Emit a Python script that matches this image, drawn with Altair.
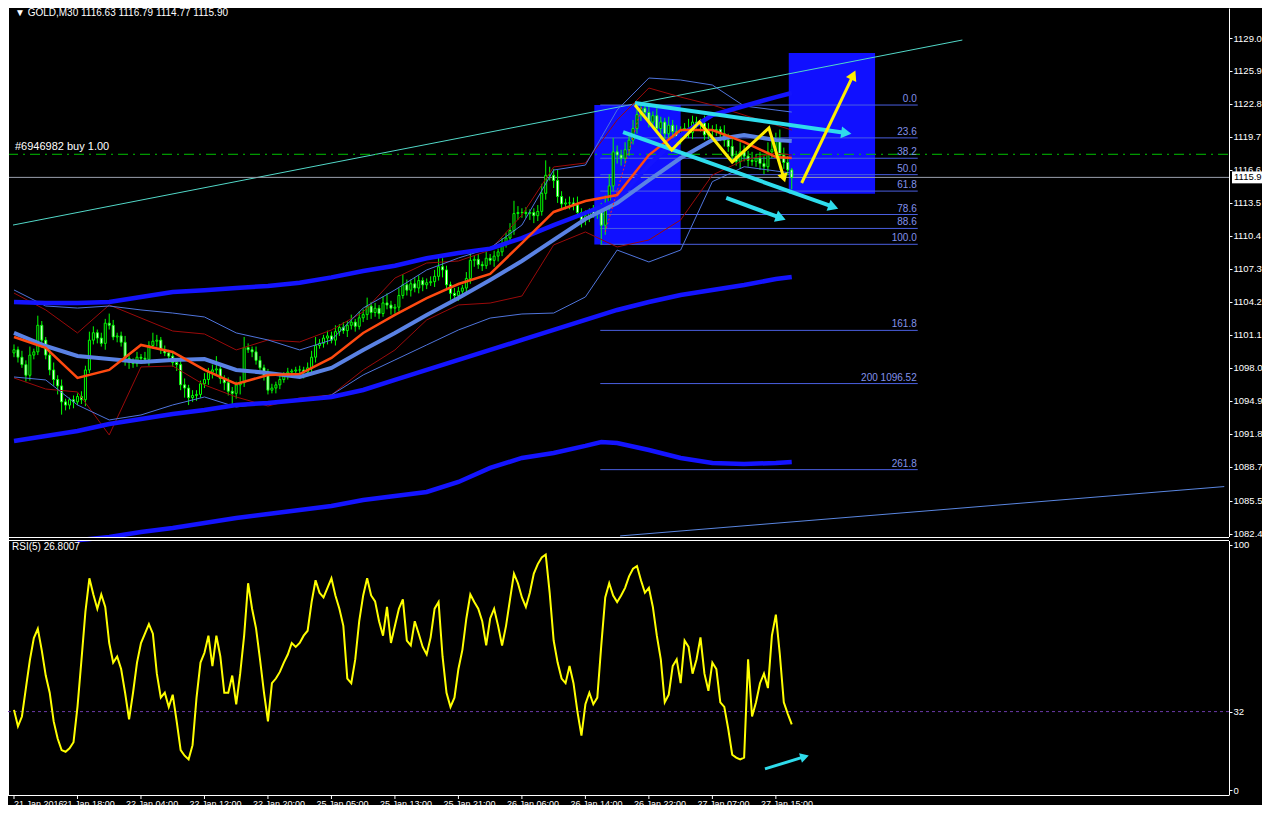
import math
import altair as alt
import pandas as pd

# ---------------- data ----------------
title_text = "\u25bc GOLD,M30  1116.63 1116.79 1114.77 1115.90"
order_text = "#6946982 buy 1.00"
rsi_text = "RSI(5) 26.8007"

first_open = 1099.4
closes = [
    1099.7, 1099.0, 1098.3, 1097.3, 1099.2, 1099.5, 1102.0, 1100.6, 1099.2, 1097.8,
    1096.9, 1096.3, 1094.8, 1094.5, 1095.0, 1094.8, 1095.3, 1095.0, 1097.8, 1100.6,
    1101.3, 1100.8, 1100.3, 1102.2, 1102.0, 1100.9, 1101.0, 1100.4, 1098.9, 1098.5,
    1098.4, 1099.0, 1098.9, 1098.8, 1100.1, 1100.5, 1100.6, 1099.7, 1099.4, 1099.1,
    1098.5, 1098.3, 1096.4, 1096.1, 1095.2, 1095.4, 1095.5, 1096.5, 1096.9, 1097.6,
    1097.8, 1097.9, 1097.0, 1096.6, 1095.8, 1095.6, 1096.4, 1096.6, 1099.9, 1099.7,
    1099.5, 1098.7, 1098.0, 1097.3, 1095.9, 1096.1, 1096.4, 1096.9, 1097.3, 1097.6,
    1097.7, 1097.8, 1097.8, 1097.6, 1098.0, 1099.0, 1100.1, 1100.3, 1100.8, 1101.0,
    1100.6, 1101.4, 1101.8, 1101.5, 1102.0, 1102.3, 1101.9, 1102.7, 1103.0, 1103.8,
    1103.2, 1103.6, 1103.1, 1104.1, 1103.9, 1103.6, 1103.7, 1104.8, 1105.8, 1105.3,
    1105.9, 1105.5, 1106.2, 1105.8, 1106.0, 1106.1, 1106.6, 1107.5, 1107.2, 1105.8,
    1105.0, 1104.8, 1105.2, 1105.5, 1106.4, 1108.1, 1108.2, 1107.7, 1107.6, 1108.3,
    1108.1, 1108.5, 1108.9, 1109.6, 1110.2, 1110.9, 1112.5, 1112.6, 1112.6, 1112.5,
    1112.6, 1112.3, 1112.7, 1114.4, 1116.1, 1116.1, 1115.6, 1114.1, 1113.4, 1113.5,
    1113.5, 1113.3, 1112.6, 1111.9, 1112.3, 1112.7, 1112.5, 1112.6, 1111.4, 1113.4,
    1115.1, 1118.3, 1118.0, 1117.7, 1118.5, 1119.4, 1120.5, 1121.8, 1122.4, 1122.0,
    1121.1, 1121.7, 1120.5, 1121.1, 1120.0, 1120.8, 1120.2, 1119.7, 1120.3, 1120.5,
    1120.1, 1121.1, 1120.9, 1121.0, 1119.9, 1120.4, 1120.3, 1120.4, 1120.0, 1119.4,
    1118.8, 1117.9, 1117.4, 1118.3, 1117.9, 1117.5, 1117.4, 1117.7, 1117.2, 1116.9,
    1118.3, 1118.5, 1119.3, 1118.0, 1117.3, 1116.6, 1115.9,
]
up_wick = [
    .5, .3, .6, .4, .8, .3, .9, .4, .3, .5, .7, .4, .6, .3, .2, .4, .3, .5, .4, .8,
    .6, .3, .5, .4, .9, .5, .3, .4, .6, .3, .4, .5, .3, .6, .4, .8, .5, .3, .4, .3,
    .5, .4, .9, .6, .3, .5, .4, .3, .6, .4, .5, 1.2, .4, .3, .5, .4, .3, .6, 1.0, .4,
    .3, .5, .4, .3, .6, .4, .3, .5, .3, .4, .2, .3, .4, .3, .5, .6, .8, .4, .3, .5,
    .4, .6, .3, .5, .4, .7, .3, .6, .5, .8, .4, .5, .3, .6, .9, .4, .3, .7, 1.0, .5,
    .4, .6, .5, .3, .4, .5, .6, 1.1, .8, .4, .3, .5, .4, .3, .6, .9, .4, .5, .3, .6,
    .4, .5, .3, .6, .5, .7, 1.2, .6, .4, .5, .3, .4, .6, .9, 1.4, .8, .6, 1.0, .5, .4,
    .6, .5, .8, .4, .5, .3, .6, .4, .9, .8, 1.1, 1.3, .6, .5, .7, .6, .8, .9, .3, .5,
    .6, .4, .7, .5, .4, .8, .5, .6, .4, .5, .9, .6, .5, .4, .7, .6, .4, .5, .3, .8,
    .6, .7, .5, .9, .6, .5, .8, .4, .6, .7, .9, 1.0, .8, 1.1, .7, .6, .19,
]
dn_wick = [
    .4, .5, .3, .6, .5, .4, .3, .7, .4, .5, .6, .8, 1.2, .5, .4, .6, .3, .4, .6, .3,
    .4, .5, .3, .6, .4, .3, .5, .4, .7, .6, .4, .3, .5, .4, .6, .3, .5, .4, .3, .5,
    .4, .6, .5, .9, .7, .4, .5, .3, .4, .5, .6, .4, .5, .7, .4, 1.0, .5, .9, .4, .3,
    .5, .4, .6, .5, .4, .3, .5, .4, .3, .4, .3, .5, .4, .6, .3, .4, .5, .3, .4, .6,
    .3, .5, .4, .3, .6, .4, .5, .3, .4, .5, .6, .4, .5, .3, .4, .6, .5, .4, .3, .5,
    .6, .4, .5, .6, .4, .3, .5, .4, .7, .5, .6, .4, .5, .6, .4, .5, .6, .4, .5, .3,
    .4, .6, .5, .4, .3, .5, .4, .6, .5, .4, .6, .7, .5, .4, .6, .5, .7, .6, .4, .5,
    .6, .5, .4, .7, .5, .6, .4, .5, 1.8, .9, .6, .5, .8, .7, .5, .6, .4, .5, .6, .4,
    .5, .6, .4, .5, .7, .4, .6, .5, .7, .4, .5, .6, .4, .7, .5, .4, .6, .5, .7, .6,
    .5, .6, .4, .7, .5, .6, .4, .5, .6, .7, .5, .6, .5, .7, .6, .5, 1.13,
]
rsi_vals = [
    32.7, 26, 30, 41.6, 53, 62, 65.8, 57, 46.7, 39.7, 28, 21, 16.3, 15.6, 17, 19.5, 33.9, 53, 72.8, 86.4,
    79.8, 74, 79.8, 74.7, 60, 52, 54.5, 49.4, 39.7, 28.8, 39.7, 52, 60, 63.8, 67.7, 63.8, 47.5, 37.7, 39.7, 33.9,
    38.9, 28, 16.3, 14, 12.5, 18.3, 37.7, 52, 56, 63, 50.6, 63, 54.5, 39.7, 39.7, 46.7, 35, 47.5, 63, 84.4,
    74, 66, 53.3, 39.7, 28, 43.6, 45.5, 48.2, 52, 55.3, 60, 58.4, 60, 63, 65, 76.7, 85.6, 80.5, 78.6, 82.5,
    86.4, 79.4, 74, 67, 45.5, 43.6, 53.3, 68.9, 79.4, 86.4, 79.4, 77, 68.9, 63, 74.7, 60, 67, 74, 77.8, 61,
    59, 68.9, 63.8, 58.4, 55.3, 62.3, 74, 76.7, 54.5, 39.7, 33.9, 37.7, 49.4, 57.2, 70, 79.8, 76.7, 74, 68.9, 59,
    70, 74, 67, 59, 67, 77.8, 88.3, 84.4, 78.6, 74.7, 80.5, 88.3, 92.2, 94.9, 96.1, 80.5, 61, 52, 45.5, 43.6,
    50.6, 43.6, 31.9, 22.2, 35, 39.7, 35, 37.7, 59, 78.6, 84.4, 79.4, 76.7, 79.4, 82.5, 87.2, 90.3, 91.4, 85.6, 80.5,
    82.5, 74.7, 63, 53.3, 35.8, 38.9, 50.6, 53.3, 43.6, 61, 58.4, 47.5, 53.3, 62.3, 47.5, 40.5, 52, 49.4, 35.8, 33.9,
    24.9, 14.4, 13.2, 12.5, 13.2, 53.3, 30, 35.8, 43.6, 47.5, 41.6, 63, 71.6, 55.3, 35.8, 31.1, 26.8,
]

# indicator lines, sampled every 8 bars
ma_bars = [0, 8, 16, 24, 32, 40, 48, 56, 64, 72, 80, 88, 96, 104, 112, 120,
           128, 136, 144, 152, 160, 168, 176, 184, 192, 196]
ma_fast = [1100.9, 1099.87, 1097.05, 1097.8, 1100.15, 1099.49, 1097.8, 1096.48, 1097.33, 1097.42,
           1098.93, 1101.28, 1102.97, 1104.56, 1105.88, 1106.82, 1109.73, 1112.65, 1113.68, 1114.24,
           1118.0, 1120.35, 1120.35, 1119.22, 1117.82, 1117.72]
ma_slow = [1101.28, 1100.05, 1099.11, 1098.83, 1098.55, 1098.74, 1098.83, 1097.8, 1097.52, 1097.14,
           1097.99, 1099.68, 1101.28, 1102.97, 1104.56, 1106.26, 1108.04, 1110.02, 1111.99, 1113.49,
           1115.65, 1117.72, 1119.41, 1119.88, 1119.41, 1119.32]
env_up = [1104.19, 1104.09, 1104.09, 1104.19, 1104.66, 1105.13, 1105.3, 1105.5, 1105.7, 1106.0,
          1106.5, 1107.1, 1107.6, 1108.3, 1108.8, 1109.2, 1110.2, 1111.42, 1112.55, 1113.77,
          1117.06, 1119.88, 1121.76, 1122.61, 1123.45, 1123.83]
env_dn = [1091.12, 1091.59, 1092.06, 1092.72, 1093.19, 1093.66, 1094.04, 1094.51, 1094.7, 1094.98,
          1095.26, 1095.92, 1096.86, 1097.8, 1098.74, 1099.68, 1100.62, 1101.56, 1102.5, 1103.44,
          1104.19, 1104.85, 1105.31, 1105.79, 1106.35, 1106.54]
bb_blue_up = [1105.32, 1103.81, 1103.62, 1103.81, 1103.44, 1103.15, 1102.78, 1101.28, 1100.62, 1099.68,
              1100.62, 1103.62, 1105.32, 1107.2, 1108.32, 1109.26, 1111.42, 1116.59, 1117.06, 1122.23,
              1125.24, 1125.05, 1124.58, 1122.61, 1122.23, 1122.04]
bb_blue_dn = [1097.14, 1096.86, 1094.51, 1093.1, 1093.57, 1094.51, 1095.26, 1094.32, 1094.7, 1094.98,
              1095.45, 1097.33, 1098.74, 1100.15, 1101.56, 1102.68, 1103.06, 1103.15, 1104.66, 1109.07,
              1107.95, 1109.07, 1115.5, 1116.9, 1116.5, 1116.3]
bb_red_up = [1105.03, 1103.44, 1101.28, 1103.91, 1102.68, 1101.46, 1101.18, 1099.68, 1100.62, 1100.43,
             1101.56, 1103.25, 1106.44, 1107.85, 1108.04, 1109.07, 1112.36, 1116.88, 1117.25, 1121.29,
             1124.3, 1123.45, 1122.7, 1121.76, 1120.82, 1120.35]
bb_red_dn = [1097.05, 1096.01, 1095.73, 1091.69, 1098.08, 1098.17, 1096.39, 1095.26, 1094.41, 1095.17,
             1095.45, 1097.8, 1099.68, 1102.5, 1103.91, 1104.09, 1104.75, 1109.55, 1110.77, 1109.36,
             1110.02, 1111.9, 1116.12, 1117.53, 1118.19, 1118.0]
low_bars = [16, 24, 32, 40, 48, 56, 64, 72, 80, 88, 96, 104, 112, 120, 128, 136, 144, 148,
            152, 160, 168, 176, 184, 192, 196]
low_line = [1081.8, 1082.1, 1082.57, 1082.95, 1083.42, 1083.89, 1084.26, 1084.64, 1085.02, 1085.58,
            1085.96, 1086.33, 1087.27, 1088.59, 1089.53, 1090.0, 1090.66, 1091.03, 1090.94, 1090.28,
            1089.53, 1089.06, 1088.96, 1089.06, 1089.15]

# axes
price_ticks = [1129.0, 1125.9, 1122.8, 1119.7, 1116.6, 1113.5, 1110.4, 1107.3, 1104.2,
               1101.1, 1098.0, 1094.9, 1091.8, 1088.7, 1085.5, 1082.4]
rsi_ticks = [0, 32, 100]
time_tick_bars = [0, 16, 32, 48, 64, 80, 96, 112, 128, 144, 160, 176, 192]
time_labels = ["21 Jan 2016", "21 Jan 18:00", "22 Jan 04:00", "22 Jan 12:00", "22 Jan 20:00",
               "25 Jan 05:00", "25 Jan 13:00", "25 Jan 21:00", "26 Jan 06:00", "26 Jan 14:00",
               "26 Jan 22:00", "27 Jan 07:00", "27 Jan 15:00"]

# fibonacci
fib_levels = [0.0, 23.6, 38.2, 50.0, 61.8, 78.6, 88.6, 100.0, 161.8, 200.0, 261.8]
fib_labels = ["0.0", "23.6", "38.2", "50.0", "61.8", "78.6", "88.6", "100.0", "161.8",
              "200 1096.52", "261.8"]
fib_top, fib_bottom = 1122.70, 1109.61
fib_start_bar, fib_end_bar = 147.75, 227.75

# rectangles
box_b1 = [146.25, 195.25]
box_b2 = [168.0, 217.0]
box_top = [1122.7, 1127.6]
box_bot = [1109.6, 1114.35]

order_price = 1118.07
bid_price = 1115.9

trend_up_bars, trend_up_prices = [-0.25, 239.0], [1111.42, 1128.81]
trend_lo_bars, trend_lo_prices = [152.75, 305.0], [1082.2, 1086.84]

cyan_arrows = [(156.5, 1122.89, 209.75, 1120.07),
               (153.5, 1120.16, 206.5, 1113.12),
               (179.5, 1113.97, 193.25, 1112.09)]
zig_bars = [156.5, 165.75, 172.75, 181.0, 190.25, 194.0]
zig_prices = [1122.7, 1118.47, 1121.1, 1117.35, 1120.54, 1115.84]
yellow_arrow = (198.5, 1115.37, 211.5, 1125.52)
red_dash = (149.0, 1110.77, 158.5, 1122.89)
rsi_arrow = (189.25, 8.6, 199.25, 13.6)

# ---------------- layout (one layered chart, two stacked y ranges) ----------------
CW, CH = 1254, 797          # whole drawing, kept inside the window with its margins
PLOT_R = 1221               # right edge of plotting area
MAIN_BOT = 529              # bottom of price panel
RSI_TOP, RSI_BOT = 532, 787
X_DOM = [-0.25, -0.25 + CW / 4.0]
P_DOM = [1082.1, 1131.82]
R_DOM = [-2.04, 102.04]
XPX = CW / (X_DOM[1] - X_DOM[0])
PPX = MAIN_BOT / (P_DOM[1] - P_DOM[0])
RPX = (RSI_BOT - RSI_TOP) / (R_DOM[1] - R_DOM[0])

FONT = "Liberation Sans"
LIME = "#00ff00"
CYAN = "#2fdcec"
YEL = "#ffee00"

xs = alt.Scale(domain=X_DOM, nice=False, zero=False)
ps = alt.Scale(domain=P_DOM, range=[MAIN_BOT, 0], nice=False, zero=False)
rs = alt.Scale(domain=R_DOM, range=[RSI_BOT, RSI_TOP], nice=False, zero=False)

axis_style = dict(title=None, grid=False, labelColor="white", tickColor="white",
                  domainColor="white", tickSize=3, labelFont=FONT, labelFontSize=9.5,
                  labelPadding=1, offset=PLOT_R - CW, orient="right")
YAX = alt.Axis(values=price_ticks, format=".1f", **axis_style)
RAX = alt.Axis(values=rsi_ticks, format="d", **axis_style)


def X(field="i"):
    return alt.X(field, type="quantitative", scale=xs, axis=None)


def Y(field="p"):
    return alt.Y(field, type="quantitative", scale=ps, axis=YAX)


def R(field="r"):
    return alt.Y(field, type="quantitative", scale=rs, axis=RAX)


def line_layer(bars, vals, color, width, dash=None):
    df = pd.DataFrame({"i": bars, "p": vals})
    kw = dict(color=color, strokeWidth=width, clip=True)
    if dash:
        kw["strokeDash"] = dash
    return alt.Chart(df).mark_line(**kw).encode(x=X(), y=Y())


def head_layer(b1, p1, b2, p2, color, size):
    ang = math.degrees(math.atan2((b2 - b1) * XPX, (p2 - p1) * PPX)) % 360
    df = pd.DataFrame({"i": [b2], "p": [p2]})
    return alt.Chart(df).mark_point(shape="triangle-up", filled=True, color=color, opacity=1,
                                    size=size, angle=ang, strokeWidth=0).encode(x=X(), y=Y())


# ---------------- price panel ----------------
n = len(closes)
opens = [first_open] + closes[:-1]
candles = pd.DataFrame({
    "i": list(range(n)),
    "o": opens,
    "c": closes,
    "h": [max(o, c) + u for o, c, u in zip(opens, closes, up_wick)],
    "l": [min(o, c) - d for o, c, d in zip(opens, closes, dn_wick)],
})

boxes = pd.DataFrame({"b1": box_b1, "b2": box_b2, "p": box_top, "p2": box_bot})
rects = alt.Chart(boxes).mark_rect(color="#1010ff").encode(
    x=X("b1"), x2="b2", y=Y("p"), y2="p2")

fib = pd.DataFrame({
    "x1": [fib_start_bar] * len(fib_levels),
    "i": [fib_end_bar] * len(fib_levels),
    "p": [fib_top - lv / 100.0 * (fib_top - fib_bottom) for lv in fib_levels],
    "t": fib_labels,
})
fib_lines = alt.Chart(fib).mark_rule(color="#4a5fe0", strokeWidth=1).encode(
    x=X("x1"), x2="i", y=Y())
fib_text = alt.Chart(fib).mark_text(align="right", baseline="bottom", dx=-1, dy=-1,
                                    color="#8292ea", font=FONT, fontSize=10).encode(
    x=X(), y=Y(), text="t:N")

order_line = alt.Chart(pd.DataFrame({"p": [order_price]})).mark_rule(
    color="#00c000", strokeWidth=1, strokeDash=[10, 5, 2, 5]).encode(
    x=alt.value(0), x2=alt.value(PLOT_R), y=Y())
bid_line = alt.Chart(pd.DataFrame({"p": [bid_price]})).mark_rule(
    color="#9aa0ae", strokeWidth=1).encode(x=alt.value(0), x2=alt.value(PLOT_R), y=Y())

wicks = alt.Chart(candles).mark_rule(color=LIME, strokeWidth=1).encode(
    x=X(), y=Y("l"), y2="h")
bodies = alt.Chart(candles).mark_bar(size=2, stroke=LIME, strokeWidth=1).encode(
    x=X(), y=Y("o"), y2="c",
    fill=alt.condition("datum.c >= datum.o", alt.value("black"), alt.value("white")))

layers = [
    rects,
    line_layer(trend_up_bars, trend_up_prices, "#52d8c8", 1),
    line_layer(trend_lo_bars, trend_lo_prices, "#5a86e0", 1),
    fib_lines,
    order_line,
    bid_line,
    wicks,
    bodies,
    line_layer(ma_bars, bb_red_up, "#9a0a0a", 1),
    line_layer(ma_bars, bb_red_dn, "#9a0a0a", 1),
    line_layer(ma_bars, bb_blue_up, "#4f74dc", 1),
    line_layer(ma_bars, bb_blue_dn, "#4f74dc", 1),
    line_layer(low_bars, low_line, "#1414ff", 4.5),
    line_layer(ma_bars, env_dn, "#1414ff", 4.5),
    line_layer(ma_bars, env_up, "#1414ff", 4.5),
    line_layer(ma_bars, ma_slow, "#5a82e4", 4),
    line_layer(ma_bars, ma_fast, "#ff4a10", 2.5),
    line_layer([red_dash[0], red_dash[2]], [red_dash[1], red_dash[3]], "#ff2020", 1, [2, 2]),
    fib_text,
]
for (b1, p1, b2, p2) in cyan_arrows:
    layers.append(line_layer([b1, b2], [p1, p2], CYAN, 4))
    layers.append(head_layer(b1, p1, b2, p2, CYAN, 140))
layers.append(line_layer(zig_bars, zig_prices, YEL, 3))
layers.append(head_layer(zig_bars[-2], zig_prices[-2], zig_bars[-1], zig_prices[-1], YEL, 110))
b1, p1, b2, p2 = yellow_arrow
layers.append(line_layer([b1, b2], [p1, p2], YEL, 3))
layers.append(head_layer(b1, p1, b2, p2, YEL, 130))

layers.append(alt.Chart(pd.DataFrame({"t": [title_text]})).mark_text(
    align="left", baseline="top", color="white", font=FONT, fontSize=10).encode(
    x=alt.value(7), y=alt.value(0), text="t:N"))
layers.append(alt.Chart(pd.DataFrame({"p": [order_price], "t": [order_text]})).mark_text(
    align="left", baseline="bottom", dy=-2, color="white", font=FONT, fontSize=11).encode(
    x=alt.value(7), y=Y(), text="t:N"))
layers.append(alt.Chart(pd.DataFrame({"p": [bid_price + 0.56], "p2": [bid_price - 0.56]})).mark_rect(
    color="white").encode(x=alt.value(PLOT_R + 3), x2=alt.value(CW), y=Y("p"), y2="p2"))
layers.append(alt.Chart(pd.DataFrame({"p": [bid_price], "t": ["%.1f" % bid_price]})).mark_text(
    align="left", baseline="middle", color="black", font=FONT, fontSize=9.5).encode(
    x=alt.value(PLOT_R + 5), y=Y(), text="t:N"))

price_panel = alt.layer(*layers)

# ---------------- RSI panel + time axis ----------------
frame = pd.DataFrame({"k": [0]})
mask = alt.Chart(frame).mark_rect(color="black").encode(
    x=alt.value(0), x2=alt.value(CW), y=alt.value(MAIN_BOT), y2=alt.value(RSI_TOP + 1))
sep1 = alt.Chart(frame).mark_rule(color="white", strokeWidth=1).encode(
    x=alt.value(0), x2=alt.value(PLOT_R), y=alt.value(MAIN_BOT + 0.5))
sep2 = alt.Chart(frame).mark_rule(color="white", strokeWidth=1).encode(
    x=alt.value(0), x2=alt.value(PLOT_R), y=alt.value(RSI_TOP + 0.5))
bottom = alt.Chart(frame).mark_rule(color="white", strokeWidth=1).encode(
    x=alt.value(0), x2=alt.value(PLOT_R), y=alt.value(RSI_BOT + 0.5))
left = alt.Chart(frame).mark_rule(color="white", strokeWidth=1).encode(
    x=alt.value(0.5), y=alt.value(0), y2=alt.value(RSI_BOT))

times = pd.DataFrame({
    "i": time_tick_bars,
    "lx": [b if k == 0 else b - 15 / XPX for k, b in enumerate(time_tick_bars)],
    "t": time_labels,
})
time_ticks = alt.Chart(times).mark_rule(color="white", strokeWidth=1).encode(
    x=X(), y=alt.value(RSI_BOT + 1), y2=alt.value(RSI_BOT + 4))
time_text = alt.Chart(times).mark_text(align="left", baseline="top", color="white",
                                       font=FONT, fontSize=9).encode(
    x=X("lx"), y=alt.value(RSI_BOT + 5), text="t:N")

rsi_df = pd.DataFrame({"i": list(range(len(rsi_vals))), "r": rsi_vals})
rsi_line = alt.Chart(rsi_df).mark_line(color="#ffff00", strokeWidth=2, clip=True).encode(
    x=X(), y=R())
lvl = alt.Chart(pd.DataFrame({"r": [32]})).mark_rule(
    color="#6a3aa8", strokeWidth=1, strokeDash=[3, 3]).encode(
    x=alt.value(0), x2=alt.value(PLOT_R), y=R())
rsi_lbl = alt.Chart(pd.DataFrame({"t": [rsi_text]})).mark_text(
    align="left", baseline="top", color="white", font=FONT, fontSize=10).encode(
    x=alt.value(4), y=alt.value(RSI_TOP + 2), text="t:N")
a1, r1, a2, r2 = rsi_arrow
arr_df = pd.DataFrame({"i": [a1, a2], "r": [r1, r2]})
rsi_arr = alt.Chart(arr_df).mark_line(color=CYAN, strokeWidth=3).encode(x=X(), y=R())
ang = math.degrees(math.atan2((a2 - a1) * XPX, (r2 - r1) * RPX)) % 360
rsi_head = alt.Chart(arr_df.iloc[[1]]).mark_point(
    shape="triangle-up", filled=True, color=CYAN, opacity=1, size=100, angle=ang,
    strokeWidth=0).encode(x=X(), y=R())

rsi_panel = alt.layer(mask, sep1, sep2, bottom, left, time_ticks, time_text,
                      lvl, rsi_line, rsi_arr, rsi_head, rsi_lbl)

chart = alt.layer(price_panel, rsi_panel).resolve_scale(y="independent").properties(
    width=CW, height=CH, padding=0, background="black",
    autosize=alt.AutoSizeParams(type="none"),
).configure_view(strokeWidth=0)

chart.save("out.html", embed_options={"renderer": "svg", "actions": False})
